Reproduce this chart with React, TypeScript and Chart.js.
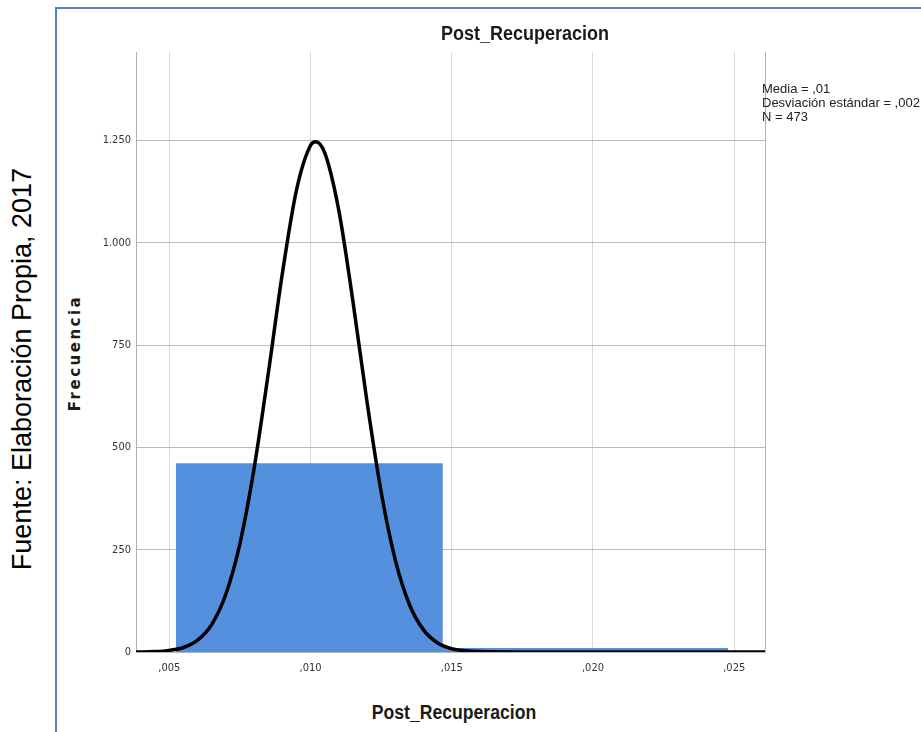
import React, { useEffect, useRef } from 'react';
import { Chart, registerables } from 'chart.js';

Chart.register(...registerables);

// ---- data ----
const binEdges = [0.00523, 0.01468, 0.02479];
const binCounts = [461, 10];
const curveX = [0.0038, 0.0045, 0.005, 0.0055, 0.006, 0.0065, 0.007, 0.0075, 0.008, 0.0085, 0.009, 0.0095, 0.01, 0.01018, 0.0105, 0.011, 0.0115, 0.012, 0.0125, 0.013, 0.0135, 0.014, 0.0145, 0.015, 0.0155, 0.016, 0.018, 0.021, 0.024, 0.0261];
const curveY = [0, 1, 4, 11, 29, 67, 141, 265, 448, 679, 924, 1128, 1238, 1247, 1220, 1079, 857, 611, 391, 225, 116, 54, 22, 8, 3, 1, 0, 0, 0, 0];
const xTicks = [0.005, 0.01, 0.015, 0.02, 0.025];
const yTicks = [0, 250, 500, 750, 1000, 1250];
const xRange = [0.00382, 0.02609];
const yRange = [0, 1466];
const statsLines = ['Media = ,01', 'Desviación estándar = ,002', 'N = 473'];
const chartTitle = 'Post_Recuperacion';
const xTitle = 'Post_Recuperacion';
const yTitle = 'Frecuencia';
const sourceText = 'Fuente: Elaboración Propia, 2017';

const NARROW = "'Liberation Sans Narrow', 'Arial Narrow', 'DejaVu Sans Condensed', 'Liberation Sans', sans-serif";
const SANS = "'Liberation Sans', Arial, sans-serif";

const fmtX = (v: number) => v.toFixed(3).replace(/^0\./, ',');
const fmtY = (v: number) => {
  const s = String(Math.round(v));
  return s.length > 3 ? s.slice(0, s.length - 3) + '.' + s.slice(s.length - 3) : s;
};

export default function App() {
  const ref = useRef<HTMLCanvasElement>(null);

  useEffect(() => {
    const canvas = ref.current;
    if (!canvas) return;

    const histPoints: { x: number; y: number }[] = [{ x: binEdges[0], y: 0 }];
    for (let i = 0; i < binCounts.length; i++) {
      histPoints.push({ x: binEdges[i], y: binCounts[i] });
      histPoints.push({ x: binEdges[i + 1], y: binCounts[i] });
    }
    histPoints.push({ x: binEdges[binEdges.length - 1], y: 0 });

    const curvePoints = curveX.map((x, i) => ({ x, y: curveY[i] }));

    const chart = new Chart(canvas, {
      type: 'line',
      data: {
        datasets: [
          {
            label: 'Curva normal',
            data: curvePoints,
            borderColor: '#000000',
            borderWidth: 3.5,
            pointRadius: 0,
            fill: false,
            cubicInterpolationMode: 'monotone',
            order: 0,
          },
          {
            label: 'Frecuencia',
            data: histPoints,
            borderWidth: 0,
            borderColor: 'rgba(0,0,0,0)',
            backgroundColor: '#5590df',
            pointRadius: 0,
            fill: 'origin',
            tension: 0,
            order: 1,
          },
        ],
      },
      options: {
        animation: false,
        responsive: false,
        devicePixelRatio: 1,
        layout: { padding: { left: 0, top: 12, right: 25, bottom: 8 } },
        plugins: {
          legend: { display: false },
          tooltip: { enabled: false },
          title: { display: false },
        },
        scales: {
          x: {
            type: 'linear',
            min: xRange[0],
            max: xRange[1],
            afterBuildTicks: (axis: any) => {
              axis.ticks = [xRange[0], ...xTicks, xRange[1]].map((v) => ({ value: v }));
            },
            afterFit: (axis: any) => {
              axis.height = 30;
            },
            ticks: {
              padding: 10,
              maxRotation: 0,
              autoSkip: false,
              color: '#333333',
              font: { family: NARROW, size: 11 },
              callback: (_v: any, i: number, ticks: any[]) => {
                const val = ticks[i].value;
                return xTicks.includes(val) ? fmtX(val) : '';
              },
            },
            grid: {
              drawTicks: false,
              lineWidth: 1,
              color: (ctx: any) => {
                const n = ctx.scale && ctx.scale.ticks ? ctx.scale.ticks.length : 0;
                return ctx.index === 0 || ctx.index === n - 1 ? '#b4b4b4' : '#d8d8d8';
              },
            },
            border: { display: true, color: '#b4b4b4', width: 1 },
          },
          y: {
            type: 'linear',
            min: yRange[0],
            max: yRange[1],
            afterBuildTicks: (axis: any) => {
              axis.ticks = yTicks.map((v) => ({ value: v }));
            },
            afterFit: (axis: any) => {
              axis.width = 46;
            },
            ticks: {
              padding: 5,
              autoSkip: false,
              color: '#333333',
              font: { family: NARROW, size: 11 },
              callback: (v: any) => fmtY(Number(v)),
            },
            grid: {
              drawTicks: false,
              lineWidth: 1,
              color: '#bcbcbc',
            },
            border: { display: true, color: '#b0b0b0', width: 1 },
          },
        },
      },
    } as any);

    return () => chart.destroy();
  }, []);

  const abs: React.CSSProperties = { position: 'absolute', whiteSpace: 'nowrap' };

  return (
    <div style={{ position: 'absolute', left: 0, top: 0, width: 921, height: 732, overflow: 'hidden', background: '#ffffff' }}>
      <div style={{ position: 'absolute', left: 55, top: 7, width: 1000, height: 1000, border: '2px solid #4f80c6', boxSizing: 'border-box' }} />
      <div style={{ ...abs, left: 22, top: 369, transform: 'translate(-50%, -50%) rotate(-90deg)', fontFamily: SANS, fontSize: 27, color: '#000' }}>
        {sourceText}
      </div>
      <canvas ref={ref} width={700} height={650} style={{ position: 'absolute', left: 90, top: 40, width: 700, height: 650, display: 'block' }} />
      <div style={{ ...abs, left: 525, top: 33, transform: 'translate(-50%, -50%) scaleX(0.9)', fontFamily: SANS, fontWeight: 'bold', fontSize: 20, color: '#1a1a1a' }}>
        {chartTitle}
      </div>
      <div style={{ ...abs, left: 454, top: 712, transform: 'translate(-50%, -50%) scaleX(0.88)', fontFamily: SANS, fontWeight: 'bold', fontSize: 20, color: '#1a1a1a' }}>
        {xTitle}
      </div>
      <div style={{ ...abs, left: 75, top: 353, transform: 'translate(-50%, -50%) rotate(-90deg)', fontFamily: "'DejaVu Sans', sans-serif", fontWeight: 'bold', fontSize: 15, letterSpacing: 2.5, color: '#1a1a1a' }}>
        {yTitle}
      </div>
      <div style={{ ...abs, left: 762, top: 82, fontFamily: SANS, fontSize: 13, lineHeight: '14px', color: '#222' }}>
        {statsLines.map((s) => (
          <div key={s}>{s}</div>
        ))}
      </div>
    </div>
  );
}
